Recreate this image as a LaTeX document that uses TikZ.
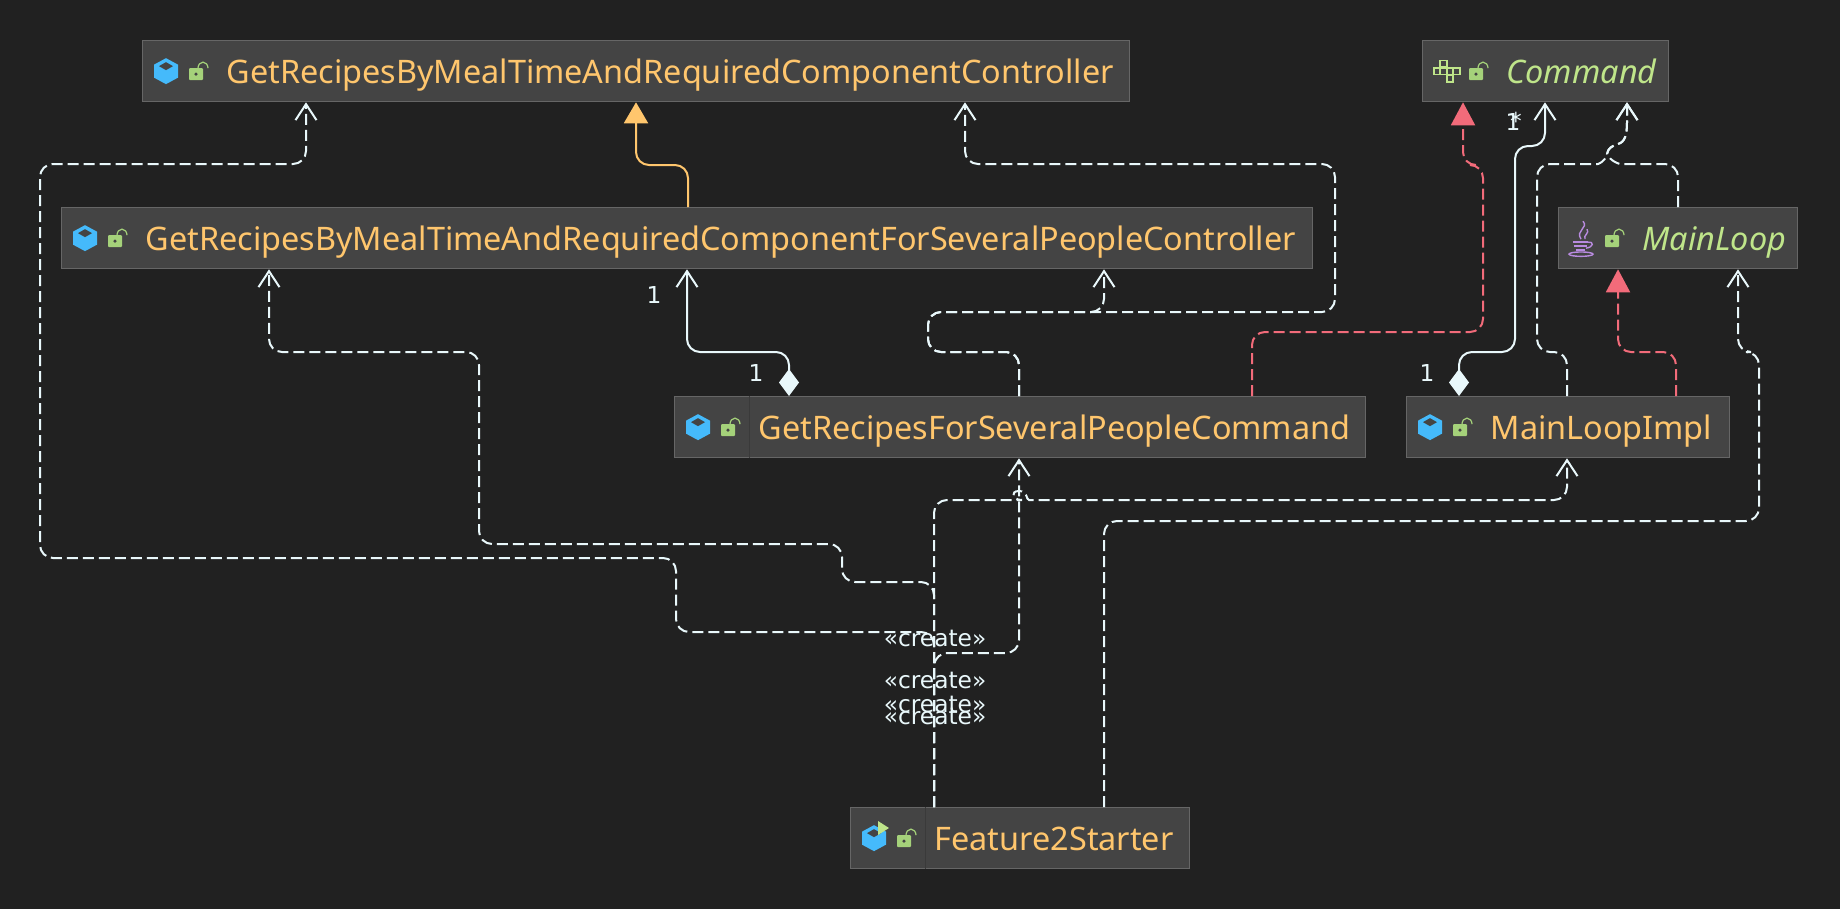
\documentclass[tikz,border=0pt]{standalone}
\usepackage{fontspec}
\setmainfont{Noto Sans}
\newfontfamily\tagfont{DejaVu Sans}
\usetikzlibrary{arrows.meta}
\definecolor{bgdark}{HTML}{212121}
\definecolor{boxfill}{HTML}{444444}
\definecolor{boxline}{HTML}{666666}
\definecolor{boxsep}{HTML}{3A3A3A}
\definecolor{classtxt}{HTML}{FFC66D}
\definecolor{ifacetxt}{HTML}{BFE58A}
\definecolor{linkwhite}{HTML}{E9F8FB}
\definecolor{linkred}{HTML}{F26B7A}
\definecolor{cubeblue}{HTML}{45BAFB}
\definecolor{lockgreen}{HTML}{A5D27A}
\definecolor{javapurple}{HTML}{B98BE0}
\tikzset{
  classbox/.style={draw=boxline, line width=1.3pt, fill=boxfill, anchor=north west, minimum height=61pt, inner sep=0pt, align=left, text height=30pt, text depth=5pt, text=classtxt, font=\fontsize{32.4}{38}\selectfont},
  ifacebox/.style={classbox, text=ifacetxt, font=\fontsize{32.4}{38}\selectfont\itshape},
  dep/.style={draw=linkwhite, line width=2pt, dash pattern=on 11pt off 5pt, rounded corners=13pt, -{Straight Barb[length=16pt,width=21pt,line width=2pt]}},
  impl/.style={draw=linkred, line width=2pt, dash pattern=on 11pt off 5pt, rounded corners=13pt, -{Triangle[length=23pt,width=24pt,fill=linkred]}},
  ext/.style={draw=classtxt, line width=2pt, rounded corners=13pt, -{Triangle[length=21pt,width=24pt,fill=classtxt]}},
  comp/.style={draw=linkwhite, line width=2pt, rounded corners=13pt, {Diamond[length=27pt,width=20pt,fill=linkwhite]}-{Straight Barb[length=16pt,width=21pt,line width=2pt]}},
  tag/.style={text=linkwhite, font=\tagfont\fontsize{23.3}{28}\selectfont, inner sep=0pt},
}
% icons, #1 is the class node
\newcommand{\lockicon}[1]{
  \begin{scope}[shift={(#1.west)}, xshift=54pt]
    \fill[lockgreen, rounded corners=1pt] (-7,-3) rectangle (7,9);
    \fill[boxfill] (0,3) circle[radius=1.8];
    \draw[lockgreen, line width=1.2pt] (2,-3) arc(180:360:5 and 6);
  \end{scope}
}
\newcommand{\cubeicon}[1]{
  \begin{scope}[shift={(#1.west)}, xshift=24pt]
    \fill[cubeblue] (0,-13) -- (12,-6.5) -- (12,6.5) -- (0,13) -- (-12,6.5) -- (-12,-6.5) -- cycle;
    \fill[boxfill] (0,-9) -- (7,-5) -- (0,-1) -- (-7,-5) -- cycle;
  \end{scope}
  \lockicon{#1}
}
\begin{document}
\begin{tikzpicture}[x=1pt,y=-1pt]
  \useasboundingbox (0,0) rectangle (1840,908);
  \fill[bgdark] (-2,-2) rectangle (1842,910);
  % classes
  \node[classbox, text width=987pt] (base) at (142,40) {\hspace*{84pt}GetRecipesByMealTimeAndRequiredComponentController};
  \node[classbox, text width=1251pt] (several) at (61,207) {\hspace*{84pt}GetRecipesByMealTimeAndRequiredComponentForSeveralPeopleController};
  \node[ifacebox, text width=246pt] (command) at (1422,40) {\hspace*{84pt}Command};
  \node[ifacebox, text width=239pt] (mainloop) at (1558,207) {\hspace*{84pt}MainLoop};
  \node[classbox, text width=691pt] (cmdimpl) at (674,396) {\hspace*{84pt}GetRecipesForSeveralPeopleCommand};
  \node[classbox, text width=323pt] (loopimpl) at (1406,396) {\hspace*{84pt}MainLoopImpl};
  \node[classbox, text width=339pt] (starter) at (850,807) {\hspace*{84pt}Feature2Starter};
  \draw[boxsep, line width=1pt] ([xshift=75pt]cmdimpl.north west) -- ([xshift=75pt]cmdimpl.south west);
  \draw[boxsep, line width=1pt] ([xshift=75pt]starter.north west) -- ([xshift=75pt]starter.south west);
  % links
  \draw[dep] ([xshift=84pt]starter.north west) -- (934,632) -- (676,632) -- (676,558) -- (40,558) -- (40,164) -- (306,164) -- ([xshift=164pt]base.south west);
  \draw[dep] ([xshift=84pt]starter.north west) -- (934,582) -- (842,582) -- (842,544) -- (479,544) -- (479,352) -- (269,352) -- ([xshift=208pt]several.south west);
  \draw[dep] ([xshift=84pt]starter.north west) -- (934,500) -- (1009,500) [sharp corners] .. controls (1012,500) and (1010,491) .. (1019,491) .. controls (1028,491) and (1026,500) .. (1029,500) [rounded corners=13pt] -- (1567,500) -- ([xshift=161pt]loopimpl.south west);
  \draw[dep, sharp corners] ([xshift=84pt]starter.north west) -- (934,664) .. controls (936,658) and (940,653) .. (948,653) [rounded corners=13pt] -- (1019,653) -- ([xshift=345pt]cmdimpl.south west);
  \draw[dep] ([xshift=254pt]starter.north west) -- (1104,521) -- (1759,521) -- (1759,352) -- (1738,352) -- ([xshift=180pt]mainloop.south west);
  \draw[dep] ([xshift=345pt]cmdimpl.north west) -- (1019,352) -- (928,352) -- (928,312) -- (1104,312) -- ([xshift=1043pt]several.south west);
  \draw[dep] ([xshift=345pt]cmdimpl.north west) -- (1019,352) -- (928,352) -- (928,312) -- (1335,312) -- (1335,164) -- (965,164) -- ([xshift=823pt]base.south west);
  \draw[dep] ([xshift=161pt]loopimpl.north west) -- (1567,352) -- (1537,352) -- (1537,164) -- (1585,164) [sharp corners] .. controls (1598,164) and (1605,162) .. (1607,154) .. controls (1608,148) and (1612,146) .. (1618,144) .. controls (1625,142) and (1627,135) .. (1627,122) -- ([xshift=205pt]command.south west);
  \draw[dep] (mainloop.north) -- (1678,164) -- (1633,164) [sharp corners] .. controls (1620,164) and (1611,162) .. (1607,154) .. controls (1608,148) and (1612,146) .. (1618,144) .. controls (1625,142) and (1627,135) .. (1627,122) -- ([xshift=205pt]command.south west);
  \draw[comp] ([xshift=115pt]cmdimpl.north west) -- (789,352) -- (687,352) -- ([xshift=626pt]several.south west);
  \draw[comp] ([xshift=53pt]loopimpl.north west) -- (1459,352) -- (1515,352) -- (1515,146) -- (1545,146) -- ([xshift=123pt]command.south west);
  \draw[ext] ([xshift=627pt]several.north west) -- (688,165) -- (636,165) -- ([xshift=494pt]base.south west);
  \draw[impl] ([xshift=578pt]cmdimpl.north west) -- (1252,332) -- (1483,332) -- (1483,165) -- (1463,165) -- ([xshift=41pt]command.south west);
  \draw[impl] ([xshift=270pt]loopimpl.north west) -- (1676,352) -- (1618,352) -- ([xshift=60pt]mainloop.south west);
  % tags
  \node[tag] (tagc) at (935,638) {«create»};
  \node[tag] (tagd) at (935,680) {«create»};
  \node[tag] (tage) at (935,704) {«create»};
  \node[tag] (tagf) at (935,716) {«create»};
  \node[tag] (onea) at (654,295) {1};
  \node[tag] (oneb) at (756,373) {1};
  \node[tag] (onec) at (1427,373) {1};
  \node[tag] (oned) at (1513,122) {1};
  \node[tag] (star) at (1516,121) {*};
  % icons
  \cubeicon{base}
  \cubeicon{several}
  \cubeicon{cmdimpl}
  \cubeicon{loopimpl}
  \cubeicon{starter}
  \fill[ifacetxt] (878,821) -- (889,828) -- (878,835) -- cycle;
  \lockicon{command}
  \begin{scope}[shift={(command.west)}, xshift=28pt]
    \foreach \cx/\cy in {-6.5/-7.5, -13/0, -6.5/0, 0/0, 6.5/0, 0/7.5}
      \draw[ifacetxt, line width=1.7pt] (\cx-3.2,\cy-3.2) rectangle (\cx+3.2,\cy+3.2);
  \end{scope}
  \lockicon{mainloop}
  \begin{scope}[shift={(mainloop.west)}, xshift=23pt, javapurple, line width=1.4pt]
    \draw (2,-17) .. controls (8,-10) and (-6,-8) .. (0,1);
    \draw (6,-9) .. controls (9,-5) and (2,-3) .. (4,1);
    \draw (-8,4) -- (7,4) (-7,8) -- (6,8) (-5,12) -- (4,12);
    \draw (7,4) .. controls (13,3) and (13,9) .. (5,10);
    \draw (0,16) ellipse[x radius=12, y radius=2.2];
  \end{scope}
\end{tikzpicture}
\end{document}
